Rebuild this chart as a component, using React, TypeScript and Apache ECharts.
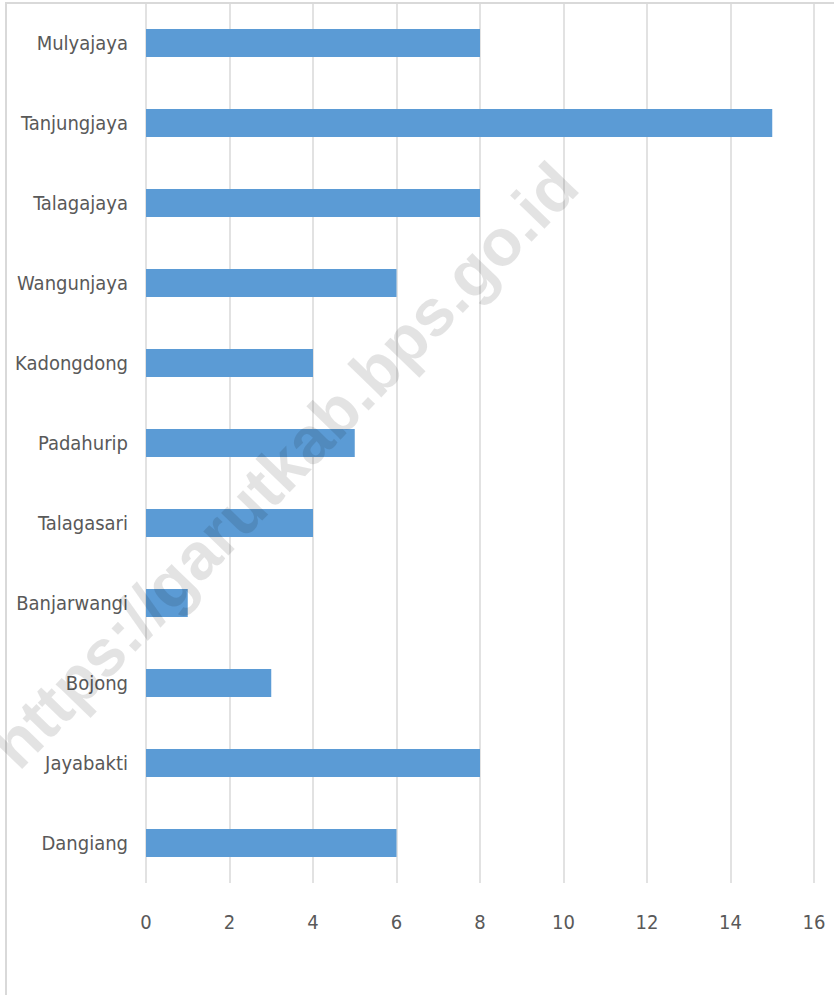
import React, { useEffect, useRef } from "react";
import * as echarts from "echarts";

const categories = [
  "Mulyajaya",
  "Tanjungjaya",
  "Talagajaya",
  "Wangunjaya",
  "Kadongdong",
  "Padahurip",
  "Talagasari",
  "Banjarwangi",
  "Bojong",
  "Jayabakti",
  "Dangiang",
];
const values = [8, 15, 8, 6, 4, 5, 4, 1, 3, 8, 6];
const xMin = 0;
const xMax = 16;
const xInterval = 2;
const watermark = "https://garutkab.bps.go.id";

const FONT = "'Liberation Sans Narrow', 'DejaVu Sans Condensed', 'Liberation Sans', sans-serif";

export default function App() {
  const ref = useRef<HTMLDivElement>(null);
  useEffect(() => {
    if (!ref.current) return;
    const chart = echarts.init(ref.current, undefined, { renderer: "svg" });
    chart.setOption({
      animation: false,
      backgroundColor: "#ffffff",
      grid: {
        left: 146,
        right: 20,
        top: 3,
        bottom: 112,
        containLabel: false,
        outerBoundsMode: "none",
      },
      xAxis: {
        type: "value",
        min: xMin,
        max: xMax,
        interval: xInterval,
        axisLine: { show: false },
        axisTick: { show: false },
        splitLine: { show: true, lineStyle: { color: "#d9d9d9", width: 1.5 } },
        axisLabel: { color: "#595959", fontSize: 20, fontFamily: FONT, margin: 29 },
      },
      yAxis: {
        type: "category",
        data: categories,
        inverse: true,
        axisLine: { show: false },
        axisTick: { show: false },
        splitLine: { show: false },
        axisLabel: { color: "#595959", fontSize: 20, fontFamily: FONT, margin: 18 },
      },
      series: [
        {
          type: "bar",
          data: values,
          barWidth: 28,
          itemStyle: { color: "#5b9bd5" },
        },
      ],
      graphic: [
        {
          type: "rect",
          shape: { x: 6, y: 3, width: 900, height: 1100 },
          style: { fill: "none", stroke: "#d9d9d9", lineWidth: 2 },
          silent: true,
          z: 0,
        },
        {
          type: "text",
          x: 284,
          y: 465,
          rotation: (46 * Math.PI) / 180,
          z: 100,
          silent: true,
          style: {
            text: watermark,
            fontSize: 66,
            fontWeight: "bold",
            fontFamily: "'Liberation Sans', Arial, sans-serif",
            fill: "rgba(0,0,0,0.11)",
            align: "center",
            verticalAlign: "middle",
          },
        },
      ],
    });
    return () => chart.dispose();
  }, []);
  return (
    <div
      ref={ref}
      style={{ position: "fixed", left: 0, top: 0, width: 834, height: 995 }}
    />
  );
}
